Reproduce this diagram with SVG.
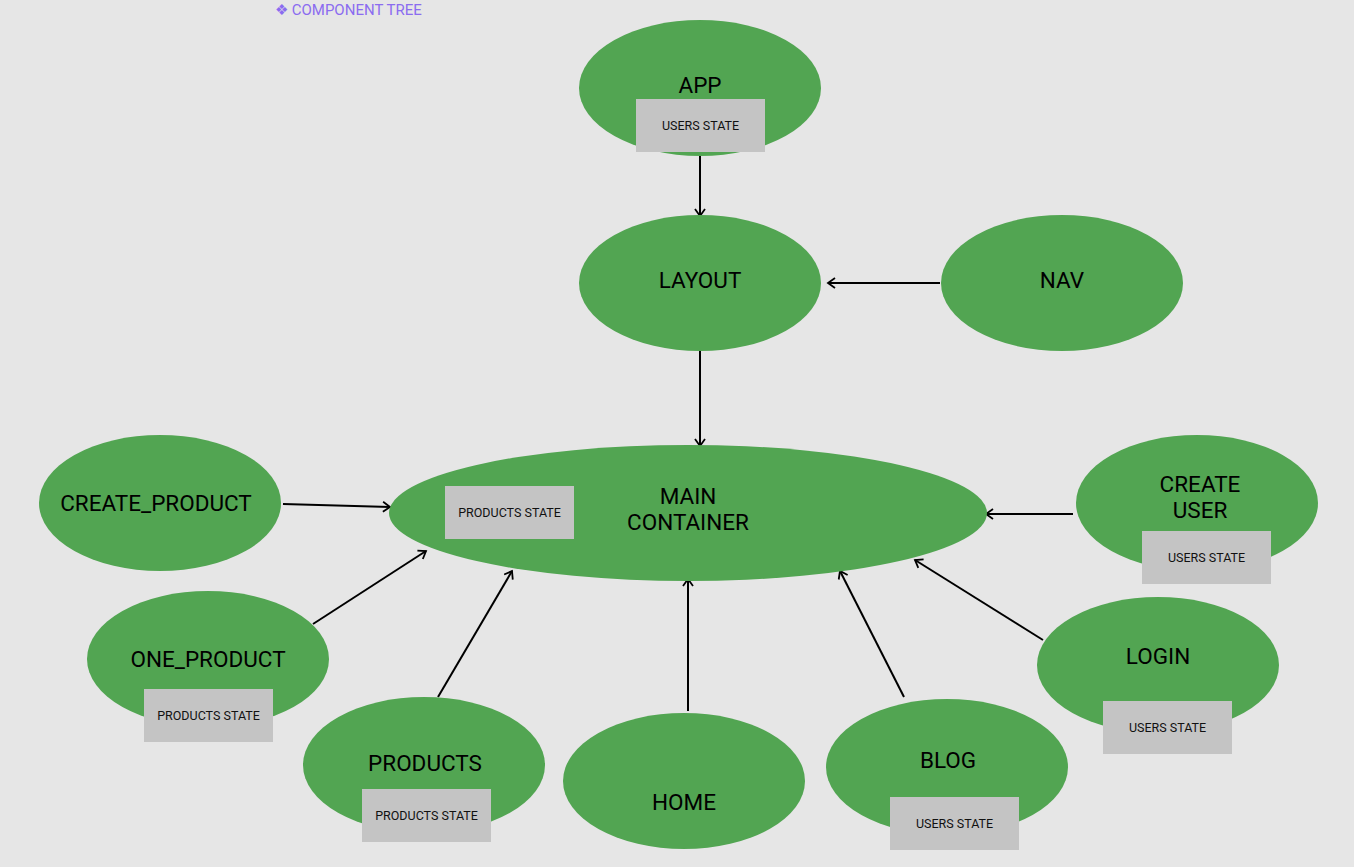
<svg xmlns="http://www.w3.org/2000/svg" width="1354" height="867" viewBox="0 0 1354 867">
<defs>
<style>
.n{fill:#52a552;}
.b{fill:#c4c4c4;}
.t{font-family:Roboto,"Liberation Sans",sans-serif;font-size:22.5px;fill:#000;text-anchor:middle;}
.s{font-family:Roboto,"Liberation Sans",sans-serif;font-size:12.5px;fill:#111;text-anchor:middle;}
.c line{stroke:#000;stroke-width:2;marker-end:url(#ah);}
</style>
<marker id="ah" viewBox="0 0 12 12" refX="10" refY="6" markerWidth="12" markerHeight="12" markerUnits="userSpaceOnUse" orient="auto">
<polyline points="3,1 10,6 3,11" fill="none" stroke="#000" stroke-width="1.8"/>
</marker>
</defs>
<rect width="1354" height="867" fill="#e6e6e6"/>
<text x="275" y="15" font-family="Roboto,'Liberation Sans',sans-serif" font-size="15" fill="#8b6cf0">❖ COMPONENT TREE</text>
<g class="c" id="connectors">
<line x1="700" y1="155" x2="700" y2="216"/>
<line x1="940" y1="283" x2="828" y2="283"/>
<line x1="700" y1="348" x2="700" y2="446"/>
<line x1="283" y1="504" x2="390" y2="507"/>
<line x1="313" y1="624" x2="426" y2="551"/>
<line x1="438" y1="697" x2="512" y2="571"/>
<line x1="688" y1="711" x2="688" y2="579"/>
<line x1="904" y1="697" x2="840" y2="571"/>
<line x1="1043" y1="640" x2="915" y2="560"/>
<line x1="1073" y1="514" x2="986" y2="514"/>
</g>
<g id="app"><ellipse class="n" cx="700" cy="88" rx="121" ry="68"/><text class="t" x="700" y="93">APP</text><rect class="b" x="636" y="99" width="129" height="53"/><text class="s" x="700.5" y="130">USERS STATE</text></g>
<g id="layout"><ellipse class="n" cx="700" cy="283" rx="121" ry="68"/><text class="t" x="700" y="288">LAYOUT</text></g>
<g id="nav"><ellipse class="n" cx="1062" cy="283" rx="121" ry="68"/><text class="t" x="1062" y="288">NAV</text></g>
<g id="main"><ellipse class="n" cx="688" cy="513" rx="299" ry="68"/><text class="t" x="688" y="504">MAIN</text><text class="t" x="688" y="530">CONTAINER</text><rect class="b" x="445" y="486" width="129" height="53"/><text class="s" x="509.5" y="517">PRODUCTS STATE</text></g>
<g id="create_product"><ellipse class="n" cx="160" cy="503" rx="121" ry="68"/><text class="t" x="156" y="511">CREATE_PRODUCT</text></g>
<g id="create_user"><ellipse class="n" cx="1197" cy="503" rx="121" ry="68"/><text class="t" x="1200" y="492">CREATE</text><text class="t" x="1200" y="518">USER</text><rect class="b" x="1142" y="531" width="129" height="53"/><text class="s" x="1206.5" y="562">USERS STATE</text></g>
<g id="one_product"><ellipse class="n" cx="208" cy="659" rx="121" ry="68"/><text class="t" x="208" y="667">ONE_PRODUCT</text><rect class="b" x="144" y="689" width="129" height="53"/><text class="s" x="208.5" y="720">PRODUCTS STATE</text></g>
<g id="products"><ellipse class="n" cx="424" cy="765" rx="121" ry="68"/><text class="t" x="425" y="771">PRODUCTS</text><rect class="b" x="362" y="789" width="129" height="53"/><text class="s" x="426.5" y="820">PRODUCTS STATE</text></g>
<g id="home"><ellipse class="n" cx="684" cy="781" rx="121" ry="68"/><text class="t" x="684" y="810">HOME</text></g>
<g id="blog"><ellipse class="n" cx="947" cy="767" rx="121" ry="68"/><text class="t" x="948" y="768">BLOG</text><rect class="b" x="890" y="797" width="129" height="53"/><text class="s" x="954.5" y="828">USERS STATE</text></g>
<g id="login"><ellipse class="n" cx="1158" cy="665" rx="121" ry="68"/><text class="t" x="1158" y="664">LOGIN</text><rect class="b" x="1103" y="701" width="129" height="53"/><text class="s" x="1167.5" y="732">USERS STATE</text></g>
</svg>
